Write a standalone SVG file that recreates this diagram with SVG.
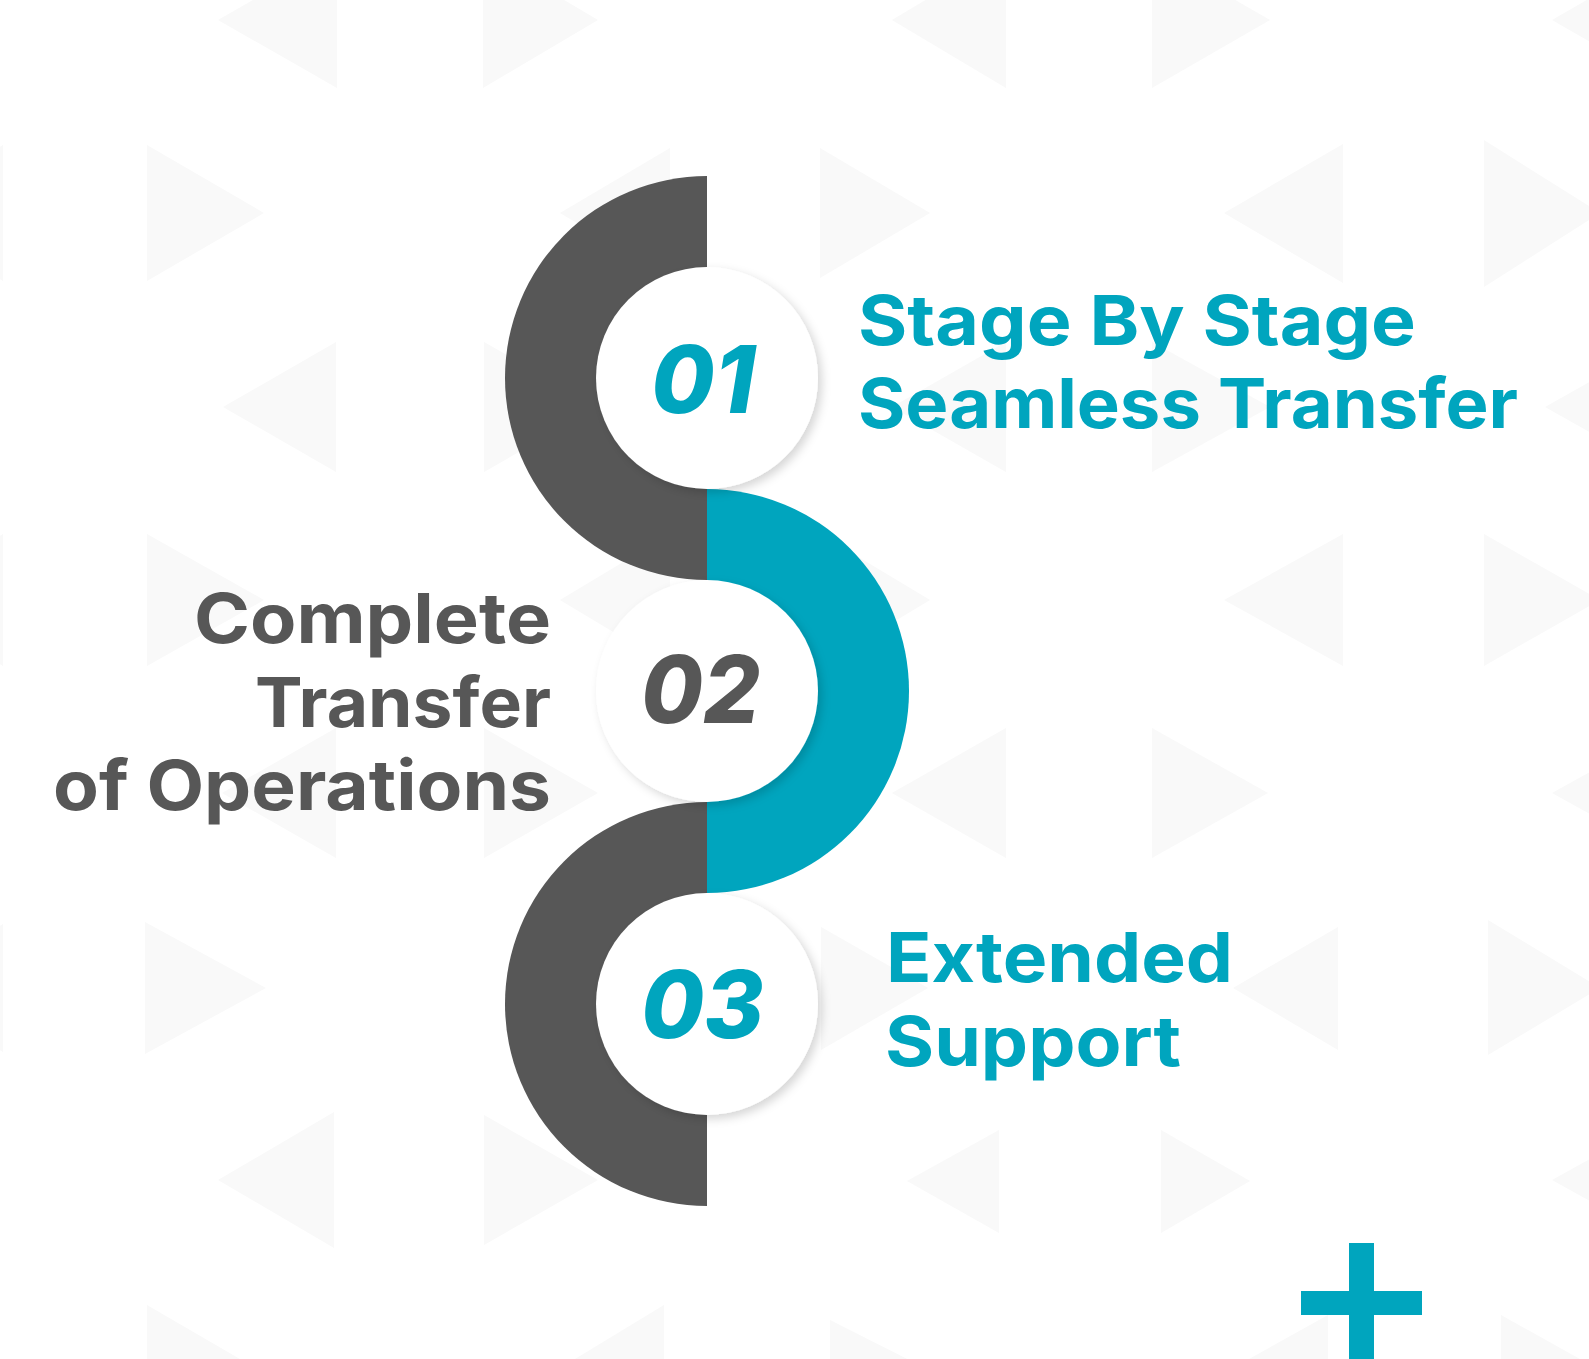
<svg xmlns="http://www.w3.org/2000/svg" width="1589" height="1359" viewBox="0 0 1589 1359">
<defs>
<style>
.bg{fill:#F9F9F9}
.gray{fill:#575757}
.teal{fill:#00A5BE}
.disc{fill:#FFFFFF;filter:url(#sh)}
.lbl{font-family:Inter,"Open Sans","Liberation Sans",sans-serif;font-weight:700;font-size:69px}
.num{font-family:Inter,"Open Sans","Liberation Sans",sans-serif;font-weight:800;font-style:italic;font-size:94px}
.tc{fill:#00A5BE}
.gc{fill:#575757}
</style>
<filter id="sh" x="-20%" y="-20%" width="150%" height="150%">
<feDropShadow dx="4" dy="4" stdDeviation="5" flood-color="#000" flood-opacity="0.16"/>
</filter>
</defs>
<rect width="1589" height="1359" fill="#FFFFFF"/>
<g id="background">
<polygon class="bg" points="218,20 337,-48 337,88"/>
<polygon class="bg" points="483,-48 483,88 598,20"/>
<polygon class="bg" points="892,20 1006,-48 1006,88"/>
<polygon class="bg" points="1152,-48 1152,88 1270,20"/>
<polygon class="bg" points="1552,20 1670,-48 1670,88"/>
<polygon class="bg" points="-112,213 3,145 3,281"/>
<polygon class="bg" points="147,145 147,281 264,213"/>
<polygon class="bg" points="560,213 670,148 670,278"/>
<polygon class="bg" points="820,148 820,278 930,213"/>
<polygon class="bg" points="1224,213 1343,144 1343,283"/>
<polygon class="bg" points="1484,140 1484,287 1600,213"/>
<polygon class="bg" points="223,407 336,342 336,472"/>
<polygon class="bg" points="484,342 484,472 598,407"/>
<polygon class="bg" points="892,407 1006,342 1006,472"/>
<polygon class="bg" points="1152,342 1152,472 1270,407"/>
<polygon class="bg" points="1545,407 1660,342 1660,472"/>
<polygon class="bg" points="-112,600 3,534 3,666"/>
<polygon class="bg" points="147,534 147,666 264,600"/>
<polygon class="bg" points="560,600 670,534 670,666"/>
<polygon class="bg" points="820,534 820,666 930,600"/>
<polygon class="bg" points="1224,600 1343,534 1343,666"/>
<polygon class="bg" points="1484,534 1484,666 1600,600"/>
<polygon class="bg" points="222,793 336,728 336,858"/>
<polygon class="bg" points="484,728 484,858 598,793"/>
<polygon class="bg" points="892,793 1006,728 1006,858"/>
<polygon class="bg" points="1152,728 1152,858 1268,793"/>
<polygon class="bg" points="1552,793 1670,728 1670,858"/>
<polygon class="bg" points="-112,988 3,924 3,1052"/>
<polygon class="bg" points="145,922 145,1054 266,988"/>
<polygon class="bg" points="560,988 670,924 670,1052"/>
<polygon class="bg" points="821,927 821,1050 928,988"/>
<polygon class="bg" points="1233,988 1338,927 1338,1050"/>
<polygon class="bg" points="1488,920 1488,1055 1600,988"/>
<polygon class="bg" points="218,1180 334,1112 334,1248"/>
<polygon class="bg" points="484,1115 484,1245 598,1180"/>
<polygon class="bg" points="907,1181 999,1130 999,1233"/>
<polygon class="bg" points="1161,1130 1161,1233 1250,1181"/>
<polygon class="bg" points="1552,1180 1670,1115 1670,1245"/>
<polygon class="bg" points="147,1305 147,1440 264,1373"/>
<polygon class="bg" points="552,1373 664,1305 664,1440"/>
<polygon class="bg" points="830,1320 830,1430 935,1373"/>
<polygon class="bg" points="1224,1373 1328,1315 1328,1430"/>
<polygon class="bg" points="1501,1315 1501,1430 1605,1373"/>
</g>
<g id="connectors">
<path class="gray" d="M707,176 A202,202 0 0 0 707,580 Z"/>
<path class="teal" d="M707,489 A202,202 0 0 1 707,893 Z"/>
<path class="gray" d="M707,802 A202,202 0 0 0 707,1206 Z"/>
</g>
<g id="node-01">
<circle class="disc" cx="707" cy="378" r="111"/>
<text class="num tc" x="651" y="413" textLength="104" lengthAdjust="spacingAndGlyphs">01</text>
<text class="lbl tc" x="858" y="345" textLength="558" lengthAdjust="spacingAndGlyphs">Stage By Stage</text>
<text class="lbl tc" x="858" y="428" textLength="660" lengthAdjust="spacingAndGlyphs">Seamless Transfer</text>
</g>
<g id="node-02">
<circle class="disc" cx="707" cy="691" r="111"/>
<text class="num gc" x="641" y="723" textLength="119" lengthAdjust="spacingAndGlyphs">02</text>
<text class="lbl gc" x="194" y="643" textLength="357" lengthAdjust="spacingAndGlyphs">Complete</text>
<text class="lbl gc" x="255" y="727" textLength="296" lengthAdjust="spacingAndGlyphs">Transfer</text>
<text class="lbl gc" x="53" y="810" textLength="498" lengthAdjust="spacingAndGlyphs">of Operations</text>
</g>
<g id="node-03">
<circle class="disc" cx="707" cy="1004" r="111"/>
<text class="num tc" x="641" y="1038" textLength="123" lengthAdjust="spacingAndGlyphs">03</text>
<text class="lbl tc" x="886" y="982" textLength="347" lengthAdjust="spacingAndGlyphs">Extended</text>
<text class="lbl tc" x="885" y="1066" textLength="296" lengthAdjust="spacingAndGlyphs">Support</text>
</g>
<g id="plus">
<rect class="teal" x="1349" y="1243" width="25" height="116"/>
<rect class="teal" x="1301" y="1291" width="121" height="24"/>
</g>
</svg>
